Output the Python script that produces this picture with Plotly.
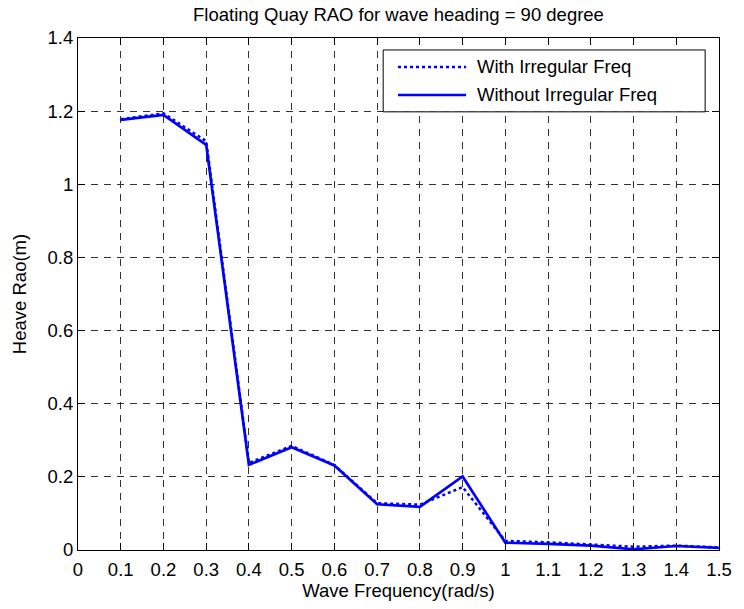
import plotly.graph_objects as go

# Wave frequency (rad/s) and heave RAO (m) for a 90 degree heading
freq = [0.1, 0.2, 0.3, 0.4, 0.5, 0.6, 0.7, 0.8, 0.9, 1.0, 1.1, 1.2, 1.3, 1.4, 1.5]
rao_with_irr = [1.178, 1.194, 1.118, 0.238, 0.285, 0.232, 0.128, 0.124, 0.172,
                0.025, 0.021, 0.016, 0.009, 0.012, 0.007]
rao_without_irr = [1.176, 1.190, 1.108, 0.233, 0.281, 0.231, 0.125, 0.118, 0.201,
                   0.020, 0.017, 0.012, 0.002, 0.011, 0.006]

series_names = ["With Irregular Freq", "Without Irregular Freq"]
title_text = "Floating Quay RAO for wave heading = 90 degree"
x_title = "Wave Frequency(rad/s)"
y_title = "Heave Rao(m)"

FONT = "Liberation Sans, Arial, Helvetica, sans-serif"
BLUE = "rgb(0,0,255)"

fig = go.Figure()
fig.add_trace(go.Scatter(x=freq, y=rao_with_irr, mode="lines", name=series_names[0],
                         line=dict(color=BLUE, width=2.5, dash="3px,3px"),
                         showlegend=False))
fig.add_trace(go.Scatter(x=freq, y=rao_without_irr, mode="lines", name=series_names[1],
                         line=dict(color=BLUE, width=2.7),
                         showlegend=False))

axis_common = dict(
    showline=True, linecolor="black", linewidth=1, mirror="ticks",
    ticks="inside", ticklen=7, tickcolor="black", tickwidth=1,
    showgrid=True, gridcolor="#333333", gridwidth=1, griddash="7px,6px",
    zeroline=False, tickfont=dict(family=FONT, size=18.5, color="black"),
)

fig.update_xaxes(range=[0, 1.5], tick0=0, dtick=0.1, ticklabelstandoff=3, **axis_common,
                 title=dict(text=x_title, font=dict(family=FONT, size=18.5, color="black"),
                            standoff=4))
fig.update_yaxes(range=[0, 1.4], tick0=0, dtick=0.2, **axis_common,
                 title=dict(text=y_title, font=dict(family=FONT, size=18.5, color="black"),
                            standoff=16))

# Legend box drawn in plot-area coordinates
lx0, lx1, ly0, ly1 = 0.4761, 0.9784, 0.8558, 0.9766
rows_y = [0.9435, 0.8889]
dashes = ["3px,3px", "solid"]
shapes = [dict(type="rect", xref="paper", yref="paper", x0=lx0, x1=lx1, y0=ly0, y1=ly1,
               fillcolor="white", line=dict(color="black", width=1), layer="above")]
annotations = []
for name, ry, dash in zip(series_names, rows_y, dashes):
    shapes.append(dict(type="line", xref="paper", yref="paper", x0=0.4992, x1=0.6055,
                       y0=ry, y1=ry, line=dict(color=BLUE, width=2.5, dash=dash),
                       layer="above"))
    annotations.append(dict(text=name, xref="paper", yref="paper", x=0.6194, y=ry,
                            xanchor="left", yanchor="middle", showarrow=False,
                            font=dict(family=FONT, size=18.5, color="black")))

fig.update_layout(
    width=744, height=609,
    margin=dict(l=78, r=17, t=38, b=58),
    paper_bgcolor="white", plot_bgcolor="white",
    title=dict(text=title_text, x=0.5, xref="paper", y=1 - 15 / 609, yref="container",
               xanchor="center", yanchor="middle",
               font=dict(family=FONT, size=18.5, color="black")),
    shapes=shapes, annotations=annotations,
    showlegend=False,
)

fig.write_html("out.html")
